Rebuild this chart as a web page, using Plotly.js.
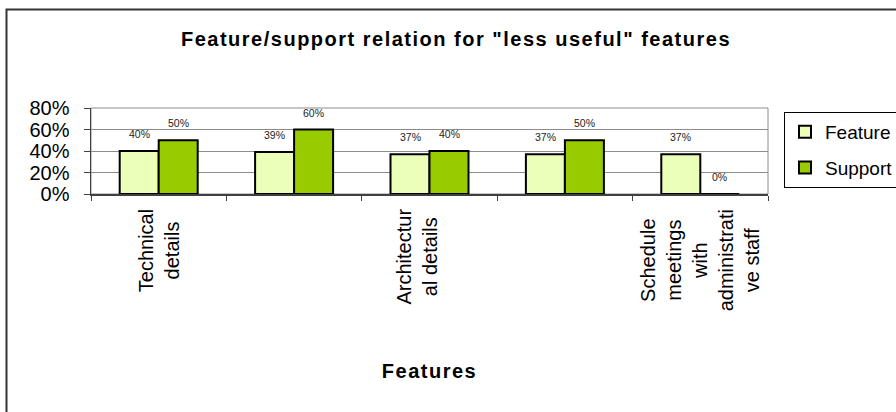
<!DOCTYPE html>
<html>
<head>
<meta charset="utf-8">
<script src="https://cdn.plot.ly/plotly-3.0.1.min.js"></script>
<style>
  html, body { margin: 0; padding: 0; background: #fff; }
  #chart { width: 896px; height: 412px; }
  .gtitle, .xtitle { letter-spacing: 1.5px; }
</style>
</head>
<body>
<div id="chart"></div>
<script>
// ---- data ----
const categories = ['Technical<br>details', '', 'Architectur<br>al details<br> ', '', 'Schedule<br>meetings<br>with<br>administrati<br>ve staff'];
const featureValues = [0.40, 0.39, 0.37, 0.37, 0.37];
const supportValues = [0.50, 0.60, 0.40, 0.50, 0.00];
const seriesNames = ['Feature', 'Support'];
const yTickValues = [0, 0.2, 0.4, 0.6, 0.8];
const yTickLabels = ['0%', '20%', '40%', '60%', '80%'];

// ---- layout constants ----
const W = 896, H = 412;
const M = { l: 91, r: 128, t: 108, b: 218 };
const plotW = W - M.l - M.r, plotH = H - M.t - M.b;
const BARGAP = 0.424;
const FONT = 'Liberation Sans, Arial, sans-serif';

const xIdx = categories.map((_, i) => i);
const halfBar = (1 - BARGAP) / 4; // center offset of each bar in a 2-bar group

const traces = [
  {
    type: 'bar', name: seriesNames[0], x: xIdx, y: featureValues,
    marker: { color: '#ecffb8', line: { color: '#000', width: 2 } },
    legendgroup: 'a', hoverinfo: 'y'
  },
  {
    type: 'bar', name: seriesNames[1], x: xIdx, y: supportValues,
    marker: { color: '#99cc00', line: { color: '#000', width: 2 } },
    legendgroup: 'b', hoverinfo: 'y'
  }
];

const annotations = [];
// data labels
[featureValues, supportValues].forEach((vals, s) => {
  vals.forEach((v, i) => {
    annotations.push({
      x: i + (s === 0 ? -halfBar : halfBar), y: v, xref: 'x', yref: 'y',
      text: Math.round(v * 100) + '%', showarrow: false,
      yanchor: 'middle', xanchor: 'center', yshift: 17,
      font: { family: FONT, size: 10.5, color: '#222' }
    });
  });
});
// category labels
categories.forEach((c, i) => {
  if (!c) return;
  annotations.push({
    x: i, y: 0, xref: 'x', yref: 'paper', text: c, showarrow: false,
    textangle: -90, align: 'center', xanchor: 'center', yanchor: 'top',
    yshift: -13, font: { family: FONT, size: 20, color: '#000' }
  });
});

const layout = {
  width: W, height: H,
  margin: M,
  paper_bgcolor: '#fff', plot_bgcolor: '#fff',
  font: { family: FONT, color: '#000' },
  showlegend: true,
  barmode: 'group', bargap: BARGAP, bargroupgap: 0,
  title: {
    text: 'Feature/support relation for "less useful" features',
    font: { family: FONT, size: 20, weight: 'bold', color: '#000' },
    xref: 'container', yref: 'container', x: 456 / W, y: 1 - 39 / H,
    xanchor: 'center', yanchor: 'middle'
  },
  xaxis: {
    type: 'linear', range: [-0.5, categories.length - 0.5],
    tickmode: 'array', tickvals: categories.map((_, i) => i - 0.5).concat([categories.length - 0.5]),
    showticklabels: false, ticks: 'outside', ticklen: 5, tickwidth: 1, tickcolor: '#404040',
    showline: true, linecolor: '#404040', linewidth: 1.5,
    showgrid: false, zeroline: false, fixedrange: true,
    title: {
      text: 'Features', standoff: 164,
      font: { family: FONT, size: 20, weight: 'bold', color: '#000' }
    },
    automargin: false
  },
  yaxis: {
    range: [0, 0.8], tickmode: 'array', tickvals: yTickValues, ticktext: yTickLabels,
    ticks: 'outside', ticklen: 6, tickwidth: 1, tickcolor: '#404040',
    ticklabelstandoff: 10,
    tickfont: { family: FONT, size: 20, color: '#000' },
    showline: true, linecolor: '#404040', linewidth: 1.5,
    showgrid: true, gridcolor: '#8c8c8c', gridwidth: 1,
    zeroline: false, fixedrange: true, automargin: false
  },
  legend: {
    xref: 'container', yref: 'container',
    x: 784 / W, y: 1 - 112 / H, xanchor: 'left', yanchor: 'top',
    bgcolor: '#fff', bordercolor: '#000', borderwidth: 1,
    font: { family: FONT, size: 19, color: '#000' },
    tracegroupgap: 8, itemwidth: 30
  },
  annotations: annotations,
  shapes: [
    { type: 'rect', xref: 'paper', yref: 'paper', x0: 0, x1: 1, y0: 0, y1: 1,
      line: { color: '#8c8c8c', width: 1 }, layer: 'below' },
    { type: 'rect', xref: 'paper', yref: 'paper',
      x0: (6.5 - M.l) / plotW, x1: 2, y0: -5, y1: (M.t + plotH - 9.5) / plotH,
      line: { color: '#333', width: 2 }, layer: 'below' }
  ]
};

Plotly.newPlot('chart', traces, layout, { displayModeBar: false, staticPlot: true });
</script>
</body>
</html>
